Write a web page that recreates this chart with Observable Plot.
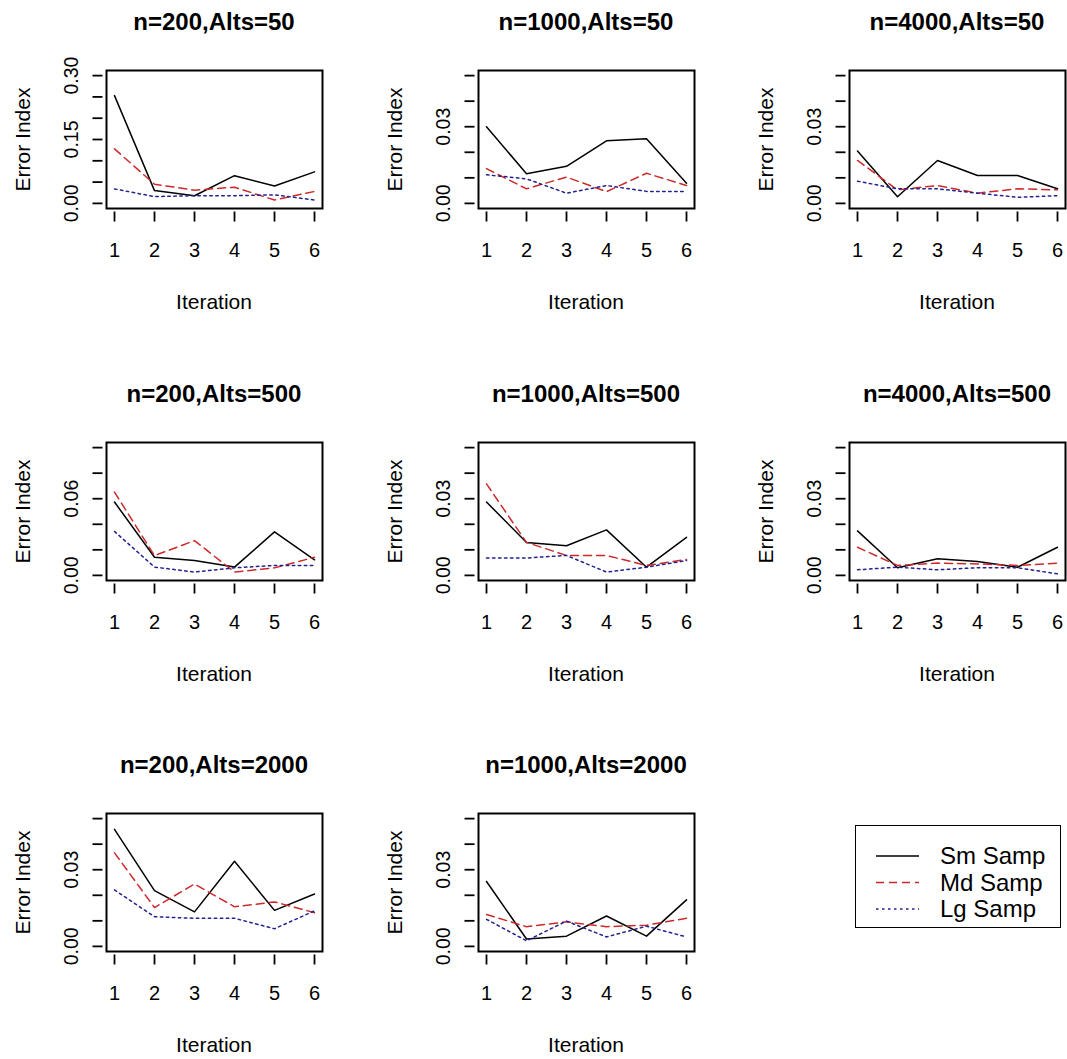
<!DOCTYPE html>
<html><head><meta charset="utf-8">
<script src="https://cdn.jsdelivr.net/npm/d3@7"></script>
<script src="https://cdn.jsdelivr.net/npm/@observablehq/plot@0.6"></script>
<style>
body{margin:0;background:#fff;}
#wrap{position:relative;width:1067px;height:1059px;font-family:"Liberation Sans",Arial,sans-serif;color:#000;overflow:hidden;}
.ptitle{position:absolute;font-weight:bold;font-size:24px;text-align:center;width:320px;line-height:1;}
.xlab{position:absolute;font-size:21px;text-align:center;width:200px;line-height:1;}
.ylab{position:absolute;font-size:21px;text-align:center;width:200px;line-height:1;transform:rotate(-90deg);}
.panel{position:absolute;}
#legend{position:absolute;border:1.5px solid #000;box-sizing:border-box;}
</style></head><body><div id="wrap"></div>
<script>
const iterations = [1, 2, 3, 4, 5, 6];
const seriesNames = ["Sm Samp", "Md Samp", "Lg Samp"];
const panelTitles = ["n=200,Alts=50", "n=1000,Alts=50", "n=4000,Alts=50",
  "n=200,Alts=500", "n=1000,Alts=500", "n=4000,Alts=500",
  "n=200,Alts=2000", "n=1000,Alts=2000"];
const smSamp = [
  [0.253, 0.030, 0.018, 0.065, 0.041, 0.074],
  [0.030, 0.0116, 0.0145, 0.0245, 0.0253, 0.0079],
  [0.0205, 0.0026, 0.0168, 0.0109, 0.0109, 0.0057],
  [0.0574, 0.0142, 0.0116, 0.0065, 0.0341, 0.0122],
  [0.0287, 0.0129, 0.0116, 0.0178, 0.0032, 0.0149],
  [0.0174, 0.0030, 0.0065, 0.0054, 0.0032, 0.0110],
  [0.0458, 0.0218, 0.0135, 0.0333, 0.0141, 0.0205],
  [0.0254, 0.0029, 0.0040, 0.0119, 0.0040, 0.0182]
];
const mdSamp = [
  [0.128, 0.045, 0.031, 0.038, 0.008, 0.028],
  [0.0136, 0.0057, 0.0103, 0.0046, 0.0118, 0.0070],
  [0.0168, 0.0053, 0.0070, 0.0040, 0.0057, 0.0053],
  [0.0652, 0.0155, 0.0272, 0.0026, 0.0059, 0.0142],
  [0.0358, 0.0129, 0.0078, 0.0078, 0.0039, 0.0062],
  [0.0110, 0.0039, 0.0048, 0.0045, 0.0039, 0.0048],
  [0.0366, 0.0152, 0.0244, 0.0155, 0.0174, 0.0132],
  [0.0125, 0.0077, 0.0096, 0.0077, 0.0083, 0.0110]
];
const lgSamp = [
  [0.034, 0.016, 0.018, 0.018, 0.020, 0.008],
  [0.0112, 0.0096, 0.0040, 0.0070, 0.0047, 0.0047],
  [0.0087, 0.0057, 0.0057, 0.0040, 0.0024, 0.0030],
  [0.0344, 0.0065, 0.0026, 0.0059, 0.0078, 0.0078],
  [0.0068, 0.0068, 0.0078, 0.0013, 0.0032, 0.0058],
  [0.0022, 0.0032, 0.0022, 0.0030, 0.0030, 0.0006],
  [0.0221, 0.0116, 0.0110, 0.0110, 0.0069, 0.0139],
  [0.0106, 0.0022, 0.0099, 0.0037, 0.0079, 0.0037]
];
const yLimits = [0.30, 0.05, 0.05, 0.10, 0.05, 0.05, 0.05, 0.05];
const yTickValues = [
  [0, 0.05, 0.10, 0.15, 0.20, 0.25, 0.30],
  [0, 0.01, 0.02, 0.03, 0.04, 0.05],
  [0, 0.01, 0.02, 0.03, 0.04, 0.05],
  [0, 0.02, 0.04, 0.06, 0.08, 0.10],
  [0, 0.01, 0.02, 0.03, 0.04, 0.05],
  [0, 0.01, 0.02, 0.03, 0.04, 0.05],
  [0, 0.01, 0.02, 0.03, 0.04, 0.05],
  [0, 0.01, 0.02, 0.03, 0.04, 0.05]
];
const yTickLabels = [
  ["0.00", "", "", "0.15", "", "", "0.30"],
  ["0.00", "", "", "0.03", "", ""],
  ["0.00", "", "", "0.03", "", ""],
  ["0.00", "", "", "0.06", "", ""],
  ["0.00", "", "", "0.03", "", ""],
  ["0.00", "", "", "0.03", "", ""],
  ["0.00", "", "", "0.03", "", ""],
  ["0.00", "", "", "0.03", "", ""]
];
const seriesColors = ["#000000", "#cc2a2a", "#22228f"];
const seriesDash = [null, "8,5", "2.5,3.5"];

// layout
const boxLeft = [106, 478, 849], boxTop = [70, 442, 813];
const boxW = 216, boxH = 138;
const mL = 106, mT = 70, W = 371, H = 371;

const wrap = document.getElementById("wrap");
const allSeries = [smSamp, mdSamp, lgSamp];

panelTitles.forEach((title, p) => {
  const col = p % 3, row = Math.floor(p / 3);
  const data = [];
  allSeries.forEach((arr, s) => iterations.forEach((it, i) => data.push({panel: p, series: seriesNames[s], iter: it, value: arr[p][i]})));
  const ymax = yLimits[p];
  const fmtMap = new Map(yTickValues[p].map((v, i) => [v, yTickLabels[p][i]]));
  const chart = Plot.plot({
    width: W, height: H,
    marginLeft: mL, marginTop: mT, marginRight: W - mL - boxW, marginBottom: H - mT - boxH,
    x: {domain: [0.8, 6.2]},
    y: {domain: [-0.04 * ymax, 1.04 * ymax]},
    style: {background: "transparent", overflow: "visible", fontFamily: "'Liberation Sans', Arial, sans-serif"},
    marks: [
      ...seriesNames.map((name, s) => Plot.line(data.filter(d => d.series === name), {
        x: "iter", y: "value", stroke: seriesColors[s], strokeWidth: 1.5,
        strokeDasharray: seriesDash[s]
      })),
      Plot.frame({stroke: "black", strokeWidth: 2}),
      Plot.axisX({ticks: iterations, tickSize: 10, dy: 3.5, tickPadding: 21, fontSize: 20, strokeWidth: 1.8, label: null, tickFormat: d => String(d)}),
      Plot.axisY({ticks: yTickValues[p], tickSize: 10, dx: -3.5, tickRotate: -90, tickPadding: 15, fontSize: 19.5, strokeWidth: 1.8, label: null,
        tickFormat: d => fmtMap.get(d) ?? ""})
    ]
  });
  chart.classList.add("panel");
  chart.style.left = (boxLeft[col] - mL) + "px";
  chart.style.top = (boxTop[row] - mT) + "px";
  wrap.appendChild(chart);

  const cx = boxLeft[col] + boxW / 2;
  const t = document.createElement("div");
  t.className = "ptitle"; t.textContent = title;
  t.style.left = (cx - 160) + "px"; t.style.top = (boxTop[row] - 48.5 - 12) + "px";
  wrap.appendChild(t);

  const xl = document.createElement("div");
  xl.className = "xlab"; xl.textContent = "Iteration";
  xl.style.left = (cx - 100) + "px"; xl.style.top = (boxTop[row] + boxH + 93.4 - 10.5) + "px";
  wrap.appendChild(xl);

  const yl = document.createElement("div");
  yl.className = "ylab"; yl.textContent = "Error Index";
  yl.style.left = (boxLeft[col] - 84 - 100) + "px"; yl.style.top = (boxTop[row] + boxH / 2 - 10.5) + "px";
  wrap.appendChild(yl);
});

// legend
const leg = document.createElement("div");
leg.id = "legend";
leg.style.left = "855px"; leg.style.top = "825px"; leg.style.width = "206px"; leg.style.height = "103px";
const lsvg = d3.create("svg").attr("width", 206).attr("height", 103).style("position", "absolute").style("left", "-1.5px").style("top", "-1.5px");
seriesNames.forEach((name, s) => {
  const y = 31 + s * 26.5;
  lsvg.append("line").attr("x1", 21).attr("x2", 64).attr("y1", y).attr("y2", y)
    .attr("stroke", seriesColors[s]).attr("stroke-width", 1.5).attr("stroke-dasharray", seriesDash[s]);
  lsvg.append("text").attr("x", 85).attr("y", y).attr("dy", "0.35em").attr("font-size", 24)
    .attr("font-family", "'Liberation Sans', Arial, sans-serif").text(name);
});
leg.appendChild(lsvg.node());
wrap.appendChild(leg);
</script></body></html>
